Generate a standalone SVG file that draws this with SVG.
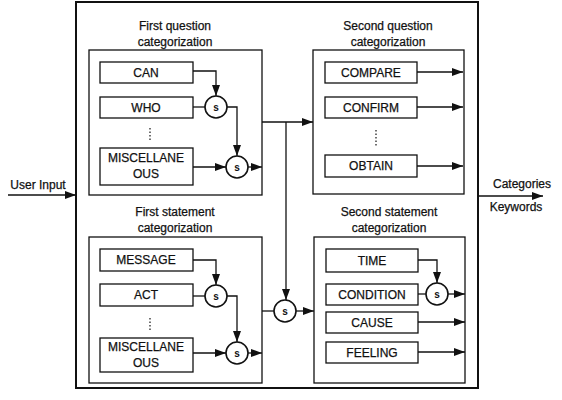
<svg xmlns="http://www.w3.org/2000/svg" width="562" height="400" viewBox="0 0 562 400">
<style>
.t{font-family:"Liberation Sans",Arial,sans-serif;font-size:12px;fill:#111;stroke:#111;stroke-width:0.25;text-anchor:middle}
.b{fill:#fff;stroke:#111;stroke-width:1.3}
.c{fill:#fff;stroke:#111;stroke-width:1.6}
.s{font-family:"Liberation Sans",Arial,sans-serif;font-size:10px;font-weight:bold;fill:#111;text-anchor:middle}
.l{fill:none;stroke:#111;stroke-width:1.3}
.d{fill:none;stroke:#111;stroke-width:1.2;stroke-dasharray:1.5 2}
</style>
<defs>
<marker id="a" viewBox="0 0 11 8" refX="11" refY="4" markerWidth="11" markerHeight="8" markerUnits="userSpaceOnUse" orient="auto">
<path d="M0,0 L11,4 L0,8 z" fill="#111"/>
</marker>
</defs>
<rect width="562" height="400" fill="#fff"/>
<g id="outer"><rect x="76" y="2" width="402" height="386" fill="none" stroke="#111" stroke-width="2"/></g>

<g id="fq">
<text class="t" x="175" y="30">First question</text>
<text class="t" x="175" y="46">categorization</text>
<rect class="b" x="89" y="50" width="173" height="145"/>
</g>
<g id="can"><rect class="b" x="100" y="62" width="93" height="21"/><text class="t" x="146" y="77">CAN</text></g>
<g id="who"><rect class="b" x="100" y="97" width="93" height="21"/><text class="t" x="146" y="112">WHO</text></g>
<g id="misc1"><rect class="b" x="100" y="148" width="93" height="37"/><text class="t" x="146" y="162">MISCELLANE</text><text class="t" x="146" y="178">OUS</text></g>
<g id="s1"><circle class="c" cx="216" cy="107" r="11"/><text class="s" x="216" y="111">s</text></g>
<g id="s2"><circle class="c" cx="237" cy="167" r="11"/><text class="s" x="237" y="171">s</text></g>

<g id="sq">
<text class="t" x="388" y="30">Second question</text>
<text class="t" x="388" y="46">categorization</text>
<rect class="b" x="313" y="50" width="151" height="144"/>
</g>
<g id="compare"><rect class="b" x="325" y="62" width="92" height="21"/><text class="t" x="371" y="77">COMPARE</text></g>
<g id="confirm"><rect class="b" x="325" y="97" width="92" height="21"/><text class="t" x="371" y="112">CONFIRM</text></g>
<g id="obtain"><rect class="b" x="325" y="155" width="92" height="22"/><text class="t" x="371" y="170">OBTAIN</text></g>

<g id="fs">
<text class="t" x="175" y="216">First statement</text>
<text class="t" x="175" y="232">categorization</text>
<rect class="b" x="89" y="237" width="173" height="146"/>
</g>
<g id="message"><rect class="b" x="100" y="249" width="93" height="22"/><text class="t" x="146" y="264">MESSAGE</text></g>
<g id="act"><rect class="b" x="100" y="284" width="93" height="22"/><text class="t" x="146" y="299">ACT</text></g>
<g id="misc2"><rect class="b" x="100" y="338" width="93" height="34"/><text class="t" x="146" y="351">MISCELLANE</text><text class="t" x="146" y="367">OUS</text></g>
<g id="s3"><circle class="c" cx="216" cy="296" r="11"/><text class="s" x="216" y="300">s</text></g>
<g id="s4"><circle class="c" cx="237" cy="353" r="11"/><text class="s" x="237" y="357">s</text></g>

<g id="ss">
<text class="t" x="389" y="216">Second statement</text>
<text class="t" x="389" y="232">categorization</text>
<rect class="b" x="314" y="237" width="151" height="146"/>
</g>
<g id="time"><rect class="b" x="326" y="249" width="92" height="23"/><text class="t" x="372" y="265">TIME</text></g>
<g id="condition"><rect class="b" x="326" y="284" width="92" height="21"/><text class="t" x="372" y="299">CONDITION</text></g>
<g id="cause"><rect class="b" x="326" y="312" width="92" height="21"/><text class="t" x="372" y="327">CAUSE</text></g>
<g id="feeling"><rect class="b" x="326" y="342" width="92" height="21"/><text class="t" x="372" y="357">FEELING</text></g>
<g id="s5"><circle class="c" cx="437" cy="294" r="11"/><text class="s" x="437" y="298">s</text></g>

<g id="s6"><circle class="c" cx="285" cy="311" r="11"/><text class="s" x="285" y="315">s</text></g>

<g id="io">
<text class="t" x="38" y="189">User Input</text>
<text class="t" x="522" y="188">Categories</text>
<text class="t" x="516" y="211">Keywords</text>
</g>

<g id="connectors">
<path class="d" d="M150,128 V142"/>
<path class="d" d="M376,130 V146"/>
<path class="d" d="M150,318 V332"/>
<path class="l" d="M8,195 H76" marker-end="url(#a)"/>
<path class="l" d="M478,196 H543" marker-end="url(#a)"/>
<path class="l" d="M193,71 H216 V96" marker-end="url(#a)"/>
<path class="l" d="M193,107 H205"/>
<path class="l" d="M227,107 H237 V156" marker-end="url(#a)"/>
<path class="l" d="M193,167 H226" marker-end="url(#a)"/>
<path class="l" d="M248,167 H262" marker-end="url(#a)"/>
<path class="l" d="M262,122 H313" marker-end="url(#a)"/>
<path class="l" d="M286,122 V300" marker-end="url(#a)"/>
<path class="l" d="M262,311 H274"/>
<path class="l" d="M296,311 H314" marker-end="url(#a)"/>
<path class="l" d="M417,72 H463" marker-end="url(#a)"/>
<path class="l" d="M417,107 H463" marker-end="url(#a)"/>
<path class="l" d="M417,166 H463" marker-end="url(#a)"/>
<path class="l" d="M193,260 H216 V285" marker-end="url(#a)"/>
<path class="l" d="M193,296 H205"/>
<path class="l" d="M227,296 H237 V342" marker-end="url(#a)"/>
<path class="l" d="M193,353 H226" marker-end="url(#a)"/>
<path class="l" d="M248,353 H262" marker-end="url(#a)"/>
<path class="l" d="M418,260 H437 V283" marker-end="url(#a)"/>
<path class="l" d="M418,294 H426"/>
<path class="l" d="M448,294 H465" marker-end="url(#a)"/>
<path class="l" d="M418,322 H465" marker-end="url(#a)"/>
<path class="l" d="M418,352 H465" marker-end="url(#a)"/>
</g>
</svg>
